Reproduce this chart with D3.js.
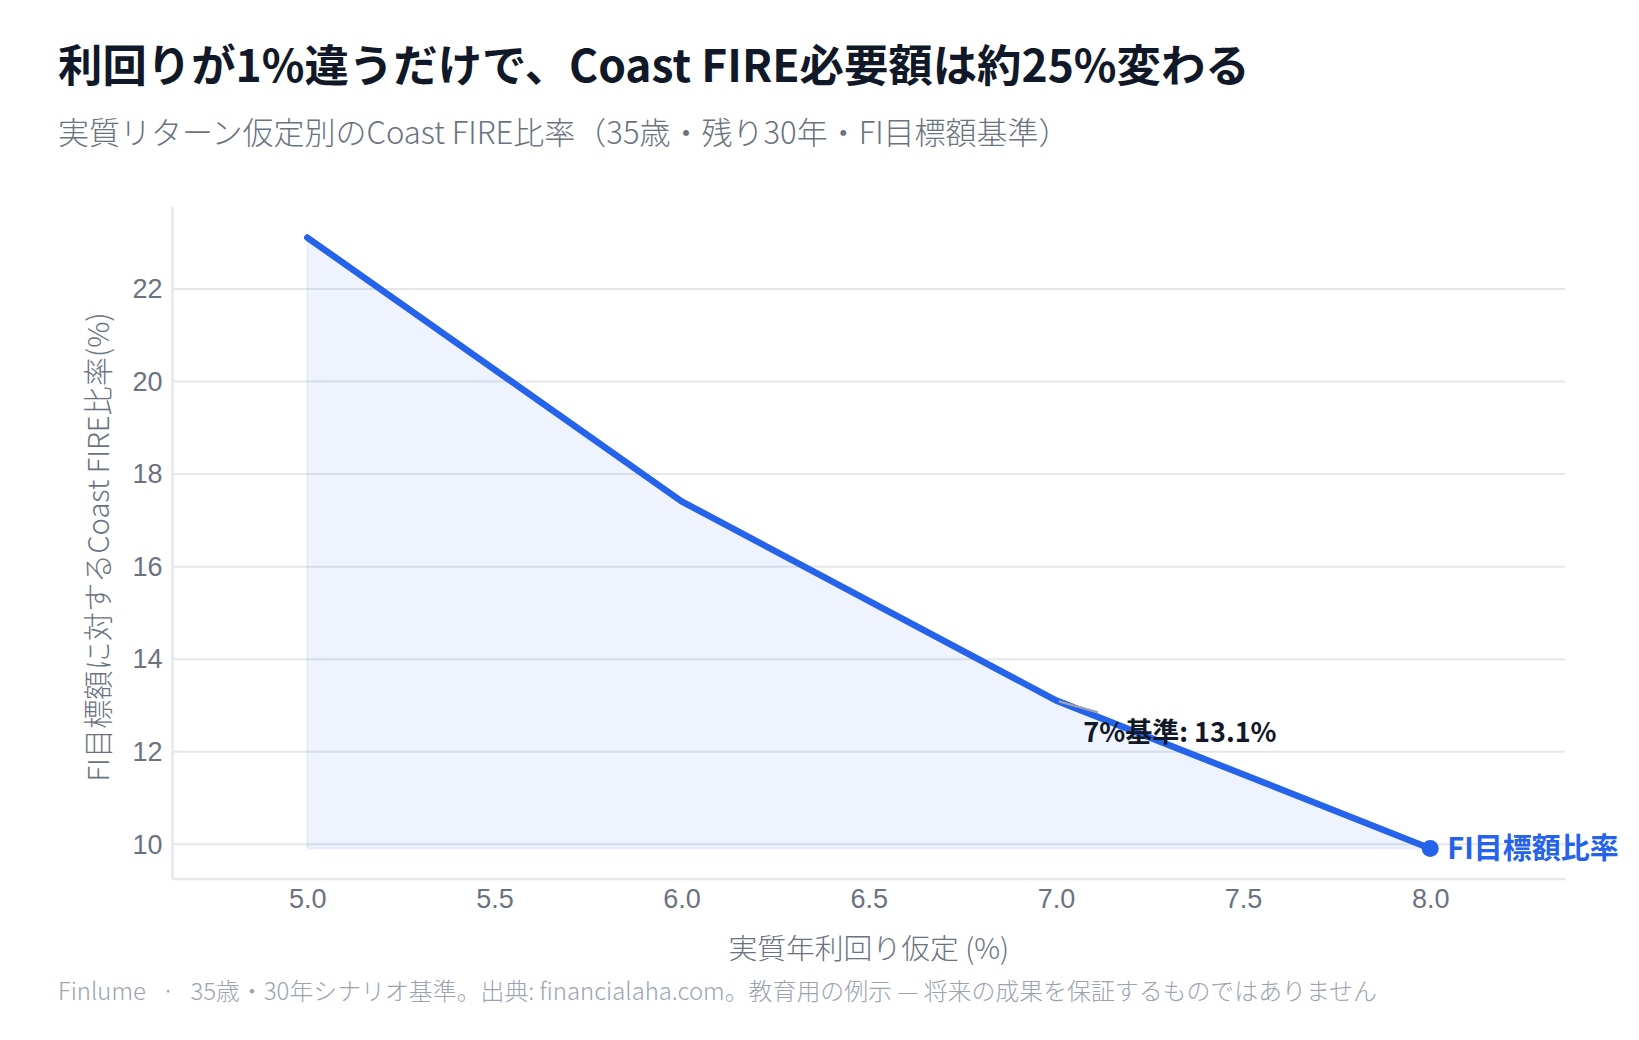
<!DOCTYPE html>
<html>
<head>
<meta charset="utf-8">
<script src="https://cdn.jsdelivr.net/npm/d3@7"></script>
<style>
  body { margin: 0; background: #fff; }
  svg { font-family: "Noto Sans CJK JP", "Noto Sans", sans-serif; }
  .grid line { stroke: #e5e7eb; stroke-width: 2; }
  .grid .domain { display: none; }
  .tick text { fill: #6b7280; font-size: 27px; font-weight: 300; }
</style>
</head>
<body>
<div id="chart"></div>
<script>
// real return assumptions (%) and coast FIRE ratio vs FI target (%)
const returns = [5.0, 6.0, 7.0, 8.0];
const ratios = [23.1, 17.4, 13.1, 9.9];
const xTicks = [5.0, 5.5, 6.0, 6.5, 7.0, 7.5, 8.0];
const yTicks = [10, 12, 14, 16, 18, 20, 22];
const baseReturn = 7.0;
const baseRatio = 13.1;

const W = 1639, H = 1040;
let margin = {top: 207, right: 74, bottom: 161, left: 172.5};
let width = W - margin.left - margin.right;
let height = H - margin.top - margin.bottom;

let svg = d3.select('#chart').append('svg')
    .attr('width', W)
    .attr('height', H);

// titles
svg.append('text')
    .attr('x', 58)
    .attr('y', 82)
    .attr('fill', '#111827')
    .attr('font-size', 44.4)
    .attr('font-weight', 700)
    .text('利回りが1%違うだけで、Coast FIRE必要額は約25%変わる');

svg.append('text')
    .attr('x', 58)
    .attr('y', 144)
    .attr('fill', '#6b7280')
    .attr('font-size', 31)
    .attr('font-weight', 300)
    .text('実質リターン仮定別のCoast FIRE比率（35歳・残り30年・FI目標額基準）');

let g = svg.append('g')
    .attr('transform', 'translate(' + margin.left + ',' + margin.top + ')');

let xPad = (d3.max(returns) - d3.min(returns)) * 0.12;
let yPad = (d3.max(ratios) - d3.min(ratios)) * 0.05;

let x = d3.scaleLinear()
    .domain([d3.min(returns) - xPad, d3.max(returns) + xPad])
    .range([0, width]);
let y = d3.scaleLinear()
    .domain([d3.min(ratios) - yPad, d3.max(ratios) + yPad])
    .range([height, 0]);

// gridlines + y tick labels
let yAxis = g.append('g')
    .attr('class', 'grid')
    .call(d3.axisLeft(y).tickValues(yTicks).tickSize(-width).tickPadding(10).tickFormat(d3.format('d')));
yAxis.selectAll('.tick text').attr('dy', '0.34em');

// x tick labels
let xAxis = g.append('g')
    .attr('class', 'grid')
    .attr('transform', 'translate(0,' + height + ')')
    .call(d3.axisBottom(x).tickValues(xTicks).tickSize(0).tickPadding(10).tickFormat(d3.format('.1f')));

// axis lines
g.append('line')
    .attr('x1', 0).attr('x2', 0)
    .attr('y1', 0).attr('y2', height)
    .attr('stroke', '#e5e7eb').attr('stroke-width', 2.5);
g.append('line')
    .attr('x1', 0).attr('x2', width)
    .attr('y1', height).attr('y2', height)
    .attr('stroke', '#e5e7eb').attr('stroke-width', 2.5);

let pts = returns.map((r, i) => [r, ratios[i]]);
let base = d3.min(ratios);

// shaded area under the line
let area = d3.area()
    .x(d => x(d[0]))
    .y0(y(base))
    .y1(d => y(d[1]));
g.append('path')
    .datum(pts)
    .attr('d', area)
    .attr('fill', 'rgba(37,99,235,0.08)')
    .attr('stroke', 'rgba(37,99,235,0.07)')
    .attr('stroke-width', 2);

// the line
let line = d3.line()
    .x(d => x(d[0]))
    .y(d => y(d[1]));
g.append('path')
    .datum(pts)
    .attr('d', line)
    .attr('fill', 'none')
    .attr('stroke', '#2563eb')
    .attr('stroke-width', 6.5)
    .attr('stroke-linejoin', 'round')
    .attr('stroke-linecap', 'round');

// annotation pointer
let ax = x(baseReturn), ay = y(baseRatio);
g.append('line')
    .attr('x1', ax + 3).attr('y1', ay + 1)
    .attr('x2', ax + 42).attr('y2', ay + 12)
    .attr('stroke', '#9ca3af')
    .attr('stroke-width', 2.5);

let last = pts[pts.length - 1];
g.append('circle')
    .attr('cx', x(last[0]))
    .attr('cy', y(last[1]))
    .attr('r', 8.5)
    .attr('fill', '#2563eb');

g.append('text')
    .attr('x', x(last[0]) + 17)
    .attr('y', y(last[1]) + 11)
    .attr('fill', '#2563eb')
    .attr('font-size', 29)
    .attr('font-weight', 700)
    .text('FI目標額比率');

g.append('text')
    .attr('x', ax + 124)
    .attr('y', ay + 42)
    .attr('text-anchor', 'middle')
    .attr('fill', '#111827')
    .attr('font-size', 27)
    .attr('font-weight', 700)
    .text('7%基準: ' + baseRatio.toFixed(1) + '%');

// axis titles
svg.append('text')
    .attr('x', margin.left + width / 2)
    .attr('y', 959)
    .attr('text-anchor', 'middle')
    .attr('fill', '#6b7280')
    .attr('font-size', 28.8)
    .attr('font-weight', 300)
    .text('実質年利回り仮定 (%)');

svg.append('text')
    .attr('transform', 'translate(96,547) rotate(-90)')
    .attr('text-anchor', 'middle')
    .attr('dominant-baseline', 'central')
    .attr('fill', '#6b7280')
    .attr('font-size', 29.2)
    .attr('font-weight', 300)
    .text('FI目標額に対するCoast FIRE比率(%)');

// footer
svg.append('text')
    .attr('x', 58)
    .attr('y', 1000)
    .attr('fill', '#9ca3af')
    .attr('font-size', 23.9)
    .attr('font-weight', 300)
    .style('white-space', 'pre')
    .text('Finlume   ·   35歳・30年シナリオ基準。出典: financialaha.com。教育用の例示 — 将来の成果を保証するものではありません');
</script>
</body>
</html>
